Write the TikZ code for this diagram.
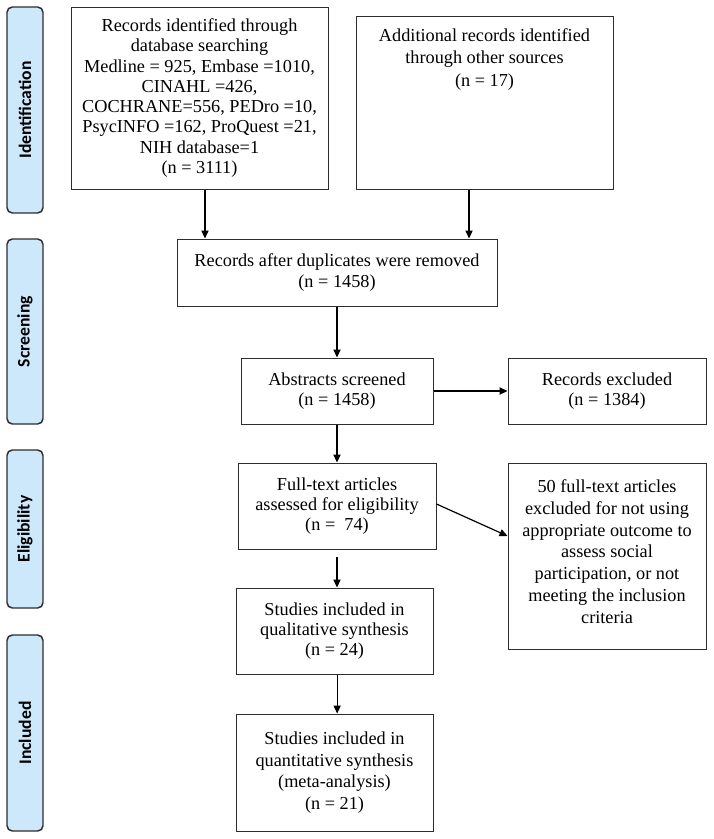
\documentclass[tikz,border=0pt]{standalone}
\usepackage{fontspec}
\setmainfont{Liberation Serif}
\newfontfamily\lblfont{Carlito}
\usetikzlibrary{arrows.meta,calc}
\definecolor{lblblue}{RGB}{206,232,251}
\definecolor{boxline}{RGB}{45,45,45}
\newcommand\mkbox[7][]{%
  \node[box,minimum width={(#5-#3)*0.75pt},minimum height={(#6-#4)*0.75pt},#1]
    (#2) at ({(#3+#5)/2},{(#4+#6)/2}) {#7};}
\newcommand\mklbl[4]{%
  \node[lbl,rotate=90,minimum width={(#4-#3)*0.75pt},minimum height={36*0.75pt}]
    (#1) at (25,{(#3+#4)/2}) {#2};}
\begin{document}
\begin{tikzpicture}[x=0.75pt,y=-0.75pt,
  box/.style={draw=boxline,line width=0.75pt,align=center,inner sep=0pt,
    font=\fontsize{13.7}{15.3}\selectfont},
  txt/.style={align=center,inner sep=0pt,font=\fontsize{13.7}{16.9}\selectfont},
  lbl/.style={draw=boxline,line width=1.1pt,fill=lblblue,rounded corners=4pt,
    inner sep=0pt,font=\lblfont\bfseries\fontsize{13.2}{15}\selectfont},
  conn/.style={draw=black,line width=0.9pt,-{Triangle[length=6pt,width=5.4pt]}}]
\useasboundingbox (0,0) rectangle (714,839);
% phase labels
\mklbl{lid}{Identification}{7}{213}
\mklbl{lsc}{Screening}{239}{424}
\mklbl{lel}{Eligibility}{450}{608}
\mklbl{lin}{Included}{635}{831}
% boxes
\mkbox[font=\fontsize{13.7}{15.2}\selectfont]{b1}{71}{7}{328}{189}{Records identified through\\database searching\\Medline = 925, Embase =1010,\\CINAHL =426,\\COCHRANE=556, PEDro =10,\\PsycINFO =162, ProQuest =21,\\NIH database=1\\(n = 3111)}
\mkbox{b2}{356}{16}{613}{189}{}
\node[txt] (b2t) at (484.5,59.5) {Additional records identified\\through other sources\\(n = 17)};
\mkbox[font=\fontsize{13.7}{15.75}\selectfont]{b3}{177}{239}{497}{306}{Records after duplicates were removed\\(n = 1458)}
\mkbox[font=\fontsize{13.7}{15}\selectfont]{b4}{241}{358}{433}{424}{Abstracts screened\\(n = 1458)}
\mkbox[font=\fontsize{13.7}{15}\selectfont]{b5}{508}{358}{706}{424}{Records excluded\\(n = 1384)}
\mkbox[font=\fontsize{13.7}{15}\selectfont]{b6}{238}{463}{436}{549}{Full-text articles\\assessed for eligibility\\(n =\ \ 74)}
\mkbox{b7}{508}{463}{706}{649}{}
\node[txt,font=\fontsize{13.7}{16.35}\selectfont] (b7t) at (607,551.5) {50 full-text articles\\excluded for not using\\appropriate outcome to\\assess social\\participation, or not\\meeting the inclusion\\criteria};
\mkbox[font=\fontsize{13.7}{14.7}\selectfont]{b8}{236}{588}{433}{674}{Studies included in\\qualitative synthesis\\(n = 24)}
\mkbox[font=\fontsize{13.7}{16.3}\selectfont]{b9}{236}{714}{433}{831}{Studies included in\\quantitative synthesis\\(meta-analysis)\\(n = 21)}
% connectors
\draw[conn] ([xshift=4.1pt]b1.south) -- ([xshift=4.1pt]b1.south |- b3.north);
\draw[conn] ([xshift=-11.6pt]b2.south) -- ([xshift=-11.6pt]b2.south |- b3.north);
\draw[conn] (b3.south) -- (b3.south |- b4.north);
\draw[conn] (b4.east) -- (b4.east -| b5.west);
\draw[conn] (b4.south) -- (b4.south |- b6.north);
\draw[conn] ([yshift=1.5pt]b6.east) -- ([yshift=15pt]b7.west);
\draw[conn] ([yshift=-5.25pt]b6.south) -- (b6.south |- b8.north);
\draw[conn] ([xshift=2pt]b8.south) -- ([xshift=2pt]b8.south |- b9.north);
\end{tikzpicture}
\end{document}
